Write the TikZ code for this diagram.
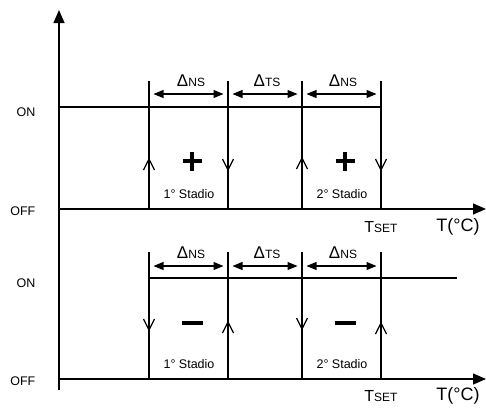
\documentclass[tikz,border=0pt]{standalone}
\usepackage{fontspec}
\setmainfont{Liberation Sans}
\usetikzlibrary{arrows.meta}
\begin{document}
\begin{tikzpicture}[x=1pt,y=-1pt,
  axis/.style={line width=1.3pt},
  axarrow/.style={axis,-{Triangle[length=13pt,width=11pt]}},
  lvl/.style={line width=1.15pt},
  dimarrow/.style={line width=1.1pt,{Triangle[length=10pt,width=8pt]}-{Triangle[length=10pt,width=8pt]},shorten <=4.5pt,shorten >=4.5pt},
  vee/.style={line width=1.3pt,line join=miter},
  thick sign/.style={line width=4pt},
  lab/.style={font=\fontsize{12.5}{14}\selectfont,inner sep=0pt},
  dlab/.style={font=\fontsize{17}{19}\selectfont,inner sep=0pt},
  tlab/.style={font=\fontsize{18}{20}\selectfont,inner sep=0pt}]
\useasboundingbox (0,0) rectangle (486,408);
\newcommand{\dsub}[1]{{\fontsize{12}{14}\selectfont #1}}
\newcommand{\upvee}[1]{\draw[vee] (#1) ++(-5.5,11) -- (#1) -- ++(5.5,11);}
\newcommand{\downvee}[1]{\draw[vee] (#1) ++(-5.5,-11) -- (#1) -- ++(5.5,-11);}
% axes
\coordinate (ybot) at (59,390);
\coordinate (ytop) at (59,10);
\draw[axarrow] (ybot) -- (ytop);
\coordinate (o1) at (59,209);
\coordinate (e1) at (486,209);
\draw[axarrow] (o1) -- (e1);
\coordinate (o2) at (59,379);
\coordinate (e2) at (486,379);
\draw[axarrow] (o2) -- (e2);
% ---------- top panel ----------
\foreach \n/\x in {a/149,b/228,c/302,d/381}{
  \coordinate (t\n) at (\x,81);
  \coordinate (m\n) at (\x,94);
  \coordinate (f\n) at (\x,209);
  \draw[lvl] (t\n) -- (f\n);
}
\coordinate (on1s) at (59,107);
\coordinate (on1e) at (381,107);
\draw[lvl] (on1s) -- (on1e);
\draw[dimarrow] (ma) -- (mb);
\draw[dimarrow] (mb) -- (mc);
\draw[dimarrow] (mc) -- (md);
\node[dlab] (d1) at (191,81) {Δ\dsub{NS}};
\node[dlab] (d2) at (267,81) {Δ\dsub{TS}};
\node[dlab] (d3) at (343,81) {Δ\dsub{NS}};
% direction arrows
\coordinate (ua) at (149,159); \upvee{ua}
\coordinate (ub) at (228,170); \downvee{ub}
\coordinate (uc) at (302,158); \upvee{uc}
\coordinate (ud) at (381,170); \downvee{ud}
% plus signs
\foreach \cx in {192,345}{
  \draw[thick sign] (\cx-9.5,161) -- (\cx+9.5,161);
  \draw[thick sign] (\cx,151.5) -- (\cx,170.5);
}
\node[lab] (s1) at (189,194) {1° Stadio};
\node[lab] (s2) at (342,194) {2° Stadio};
\node[lab,anchor=east] (on1) at (35.5,112) {ON};
\node[lab,anchor=east] (off1) at (35.5,211) {OFF};
\node[inner sep=0pt,font=\fontsize{16}{18}\selectfont] (ts1) at (381,227) {T\dsub{SET}};
\node[tlab] (tc1) at (458,227) {T(°C)};
% ---------- bottom panel ----------
\foreach \n/\x in {a/149,b/228,c/302,d/381}{
  \coordinate (bt\n) at (\x,252);
  \coordinate (bm\n) at (\x,266);
  \coordinate (bf\n) at (\x,379);
  \draw[lvl] (bt\n) -- (bf\n);
}
\coordinate (on2s) at (149,278);
\coordinate (on2e) at (457,278);
\draw[lvl] (on2s) -- (on2e);
\draw[dimarrow] (bma) -- (bmb);
\draw[dimarrow] (bmb) -- (bmc);
\draw[dimarrow] (bmc) -- (bmd);
\node[dlab] (d4) at (191,253) {Δ\dsub{NS}};
\node[dlab] (d5) at (267,253) {Δ\dsub{TS}};
\node[dlab] (d6) at (343,253) {Δ\dsub{NS}};
\coordinate (va) at (149,330); \downvee{va}
\coordinate (vb) at (228,322); \upvee{vb}
\coordinate (vc) at (302,329); \downvee{vc}
\coordinate (vd) at (381,323); \upvee{vd}
\foreach \cx in {192.5,345}{
  \draw[thick sign] (\cx-10.5,323) -- (\cx+10.5,323);
}
\node[lab] (s3) at (189,364) {1° Stadio};
\node[lab] (s4) at (342,364) {2° Stadio};
\node[lab,anchor=east] (on2) at (35.5,283) {ON};
\node[lab,anchor=east] (off2) at (35.5,381) {OFF};
\node[inner sep=0pt,font=\fontsize{16}{18}\selectfont] (ts2) at (381,396) {T\dsub{SET}};
\node[tlab] (tc2) at (458,396) {T(°C)};
\end{tikzpicture}
\end{document}
